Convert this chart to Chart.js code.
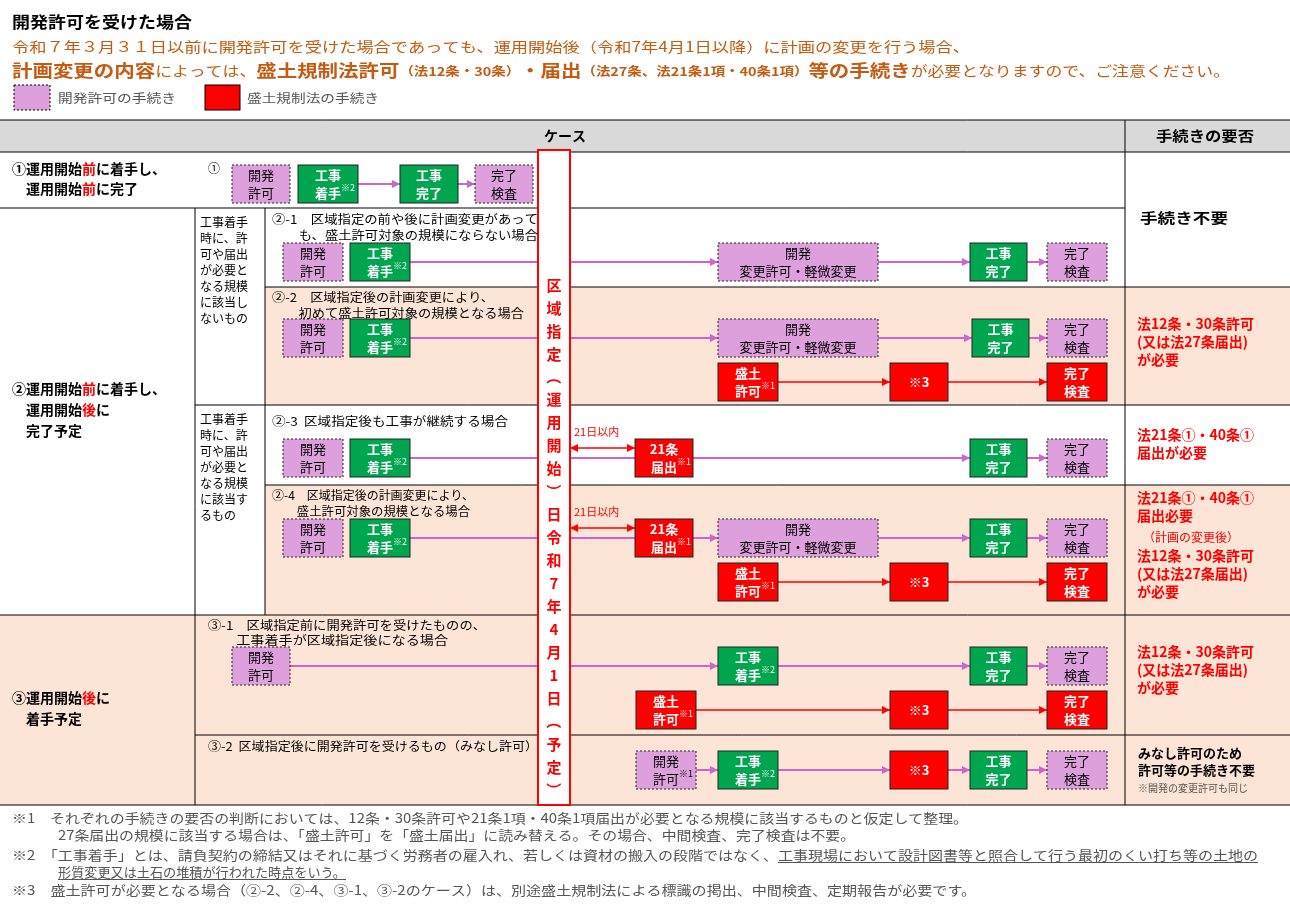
<!DOCTYPE html>
<html><head><meta charset="utf-8">
<script src="https://cdn.jsdelivr.net/npm/chart.js@4"></script>
<style>html,body{margin:0;padding:0;background:#fff}#c{display:block}</style>
</head><body>
<div style="width:1290px;height:911px"><canvas id="c"></canvas></div>
<script>
const F = '"Noto Sans CJK JP", "Noto Sans", sans-serif';
const ORANGE = '#c55a11', RED = '#ff0000', PINK = '#dda0dd', GREEN = '#00a550', PEACH = '#fce4d6';

// table bands [y1, y2, x1, x2, fill]
const bands = [
  [120, 152, 0, 1290, '#d9d9d9'],
  [287, 405, 265, 1125, PEACH], [485, 615, 265, 1125, PEACH],
  [287, 405, 1125, 1290, PEACH], [485, 615, 1125, 1290, PEACH],
  [615, 805, 0, 1290, PEACH]
];
// grid lines [x1, y1, x2, y2]
const gridLines = [
  [0, 120, 1290, 120], [0, 152, 1290, 152], [0, 208, 1125, 208], [265, 287, 1290, 287],
  [195, 405, 1290, 405], [265, 485, 1290, 485], [0, 615, 1290, 615], [195, 735, 1290, 735],
  [0, 805, 1290, 805], [195, 208, 195, 805], [265, 208, 265, 615], [1125, 120, 1125, 805]
];
// boxes [label, kind, x1, x2, yCenter, note]
const boxes = [
  ['開発\n許可', 'dev', 232, 290, 184, ''], ['工事\n着手', 'work', 298, 358, 184, '※2'],
  ['工事\n完了', 'work', 400, 458, 184, ''], ['完了\n検査', 'dev', 475, 533, 184, ''],
  ['開発\n許可', 'dev', 283, 343, 262, ''], ['工事\n着手', 'work', 350, 410, 262, '※2'],
  ['開発\n変更許可・軽微変更', 'dev', 718, 878, 262, ''], ['工事\n完了', 'work', 970, 1027, 262, ''], ['完了\n検査', 'dev', 1047, 1107, 262, ''],
  ['開発\n許可', 'dev', 283, 343, 338, ''], ['工事\n着手', 'work', 350, 410, 338, '※2'],
  ['開発\n変更許可・軽微変更', 'dev', 718, 878, 338, ''], ['工事\n完了', 'work', 972, 1029, 338, ''], ['完了\n検査', 'dev', 1047, 1107, 338, ''],
  ['盛土\n許可', 'reg', 718, 778, 382, '※1'], ['※3', 'reg', 890, 948, 382, ''], ['完了\n検査', 'reg', 1047, 1107, 382, ''],
  ['開発\n許可', 'dev', 283, 343, 458, ''], ['工事\n着手', 'work', 350, 410, 458, '※2'],
  ['21条\n届出', 'reg', 635, 693, 458, '※1'], ['工事\n完了', 'work', 970, 1027, 458, ''], ['完了\n検査', 'dev', 1047, 1107, 458, ''],
  ['開発\n許可', 'dev', 283, 343, 538, ''], ['工事\n着手', 'work', 350, 410, 538, '※2'],
  ['21条\n届出', 'reg', 635, 693, 538, '※1'], ['開発\n変更許可・軽微変更', 'dev', 718, 878, 538, ''],
  ['工事\n完了', 'work', 970, 1027, 538, ''], ['完了\n検査', 'dev', 1047, 1107, 538, ''],
  ['盛土\n許可', 'reg', 718, 778, 582, '※1'], ['※3', 'reg', 890, 948, 582, ''], ['完了\n検査', 'reg', 1047, 1107, 582, ''],
  ['開発\n許可', 'dev', 232, 290, 666, ''], ['工事\n着手', 'work', 718, 778, 666, '※2'],
  ['工事\n完了', 'work', 970, 1027, 666, ''], ['完了\n検査', 'dev', 1047, 1107, 666, ''],
  ['盛土\n許可', 'reg', 636, 696, 710, '※1'], ['※3', 'reg', 890, 948, 710, ''], ['完了\n検査', 'reg', 1047, 1107, 710, ''],
  ['開発\n許可', 'dev', 636, 696, 770, '※1'], ['工事\n着手', 'work', 718, 778, 770, '※2'],
  ['※3', 'reg', 890, 948, 770, ''], ['工事\n完了', 'work', 970, 1027, 770, ''], ['完了\n検査', 'dev', 1047, 1107, 770, '']
];
// arrows [x1, x2, y, color, double]
const arrows = [
  [358, 400, 184, '#cc66cc', 0], [458, 475, 184, '#cc66cc', 0],
  [410, 718, 262, '#cc66cc', 0], [878, 970, 262, '#cc66cc', 0], [1027, 1047, 262, '#cc66cc', 0],
  [410, 718, 338, '#cc66cc', 0], [878, 972, 338, '#cc66cc', 0], [1029, 1047, 338, '#cc66cc', 0],
  [778, 890, 382, RED, 0], [948, 1047, 382, RED, 0],
  [410, 970, 458, '#cc66cc', 0], [1027, 1047, 458, '#cc66cc', 0], [570, 635, 448, RED, 1],
  [410, 718, 538, '#cc66cc', 0], [878, 970, 538, '#cc66cc', 0], [1027, 1047, 538, '#cc66cc', 0], [570, 635, 528, RED, 1],
  [778, 890, 582, RED, 0], [948, 1047, 582, RED, 0],
  [290, 718, 666, '#cc66cc', 0], [778, 970, 666, '#cc66cc', 0], [1027, 1047, 666, '#cc66cc', 0],
  [696, 890, 710, RED, 0], [948, 1047, 710, RED, 0],
  [696, 718, 770, '#cc66cc', 0], [778, 890, 770, '#cc66cc', 0], [948, 970, 770, '#cc66cc', 0], [1027, 1047, 770, '#cc66cc', 0]
];
// texts [text, x, y, size, color, bold, align, fitWidth, underlineFrom]
const texts = [
  ['開発許可を受けた場合', 12, 22, 16, '#000', 1, 'left', 180],
  ['令和７年３月３１日以前に開発許可を受けた場合であっても、運用開始後（令和7年4月1日以降）に計画の変更を行う場合、', 12, 47, 14, ORANGE, 0, 'left', 958],
  ['開発許可の手続き', 58, 98, 12, '#555', 0, 'left', 118], ['盛土規制法の手続き', 247, 98, 12, '#555', 0, 'left', 132],
  ['ケース', 565, 136, 14, '#000', 1, 'center'], ['手続きの要否', 1205, 136, 14, '#000', 1, 'center', 98],
  ['①', 208, 168, 12, '#000', 0, 'left'],
  ['②-1　区域指定の前や後に計画変更があって', 272, 219, 12, '#000', 0, 'left', 266],
  ['　　も、盛土許可対象の規模にならない場合', 272, 235, 12, '#000', 0, 'left', 266],
  ['②-2　区域指定後の計画変更により、', 272, 297, 12, '#000', 0, 'left', 222],
  ['　　初めて盛土許可対象の規模となる場合', 272, 313, 12, '#000', 0, 'left', 252],
  ['②-3  区域指定後も工事が継続する場合', 272, 421, 12, '#000', 0, 'left', 236],
  ['②-4　区域指定後の計画変更により、', 272, 495, 12, '#000', 0, 'left', 202],
  ['　　盛土許可対象の規模となる場合', 272, 511, 12, '#000', 0, 'left', 198],
  ['③-1　区域指定前に開発許可を受けたものの、', 208, 625, 12, '#000', 0, 'left', 278],
  ['　　工事着手が区域指定後になる場合', 208, 640, 12, '#000', 0, 'left', 240],
  ['③-2  区域指定後に開発許可を受けるもの（みなし許可）', 208, 746, 12, '#000', 0, 'left', 330],
  ['工事着手\n時に、許\n可や届出\nが必要と\nなる規模\nに該当し\nないもの', 200, 222, 12, '#000', 0, 'left'],
  ['工事着手\n時に、許\n可や届出\nが必要と\nなる規模\nに該当す\nるもの', 200, 419, 12, '#000', 0, 'left'],
  ['21日以内', 574, 432, 11, RED, 0, 'left'], ['21日以内', 574, 512, 11, RED, 0, 'left'],
  ['手続き不要', 1140, 218, 14, '#000', 1, 'left', 88],
  ['法12条・30条許可\n(又は法27条届出)\nが必要', 1137, 324, 14, RED, 1, 'left'],
  ['法21条①・40条①\n届出が必要', 1137, 435, 14, RED, 1, 'left'],
  ['法21条①・40条①\n届出必要', 1137, 498, 14, RED, 1, 'left'],
  ['（計画の変更後）', 1143, 537, 12, RED, 0, 'left'],
  ['法12条・30条許可\n(又は法27条届出)\nが必要', 1137, 556, 14, RED, 1, 'left'],
  ['法12条・30条許可\n(又は法27条届出)\nが必要', 1137, 652, 14, RED, 1, 'left'],
  ['みなし許可のため\n許可等の手続き不要', 1138, 753, 13, '#000', 1, 'left'],
  ['※開発の変更許可も同じ', 1138, 788, 10, '#555', 0, 'left'],
  ['※1　それぞれの手続きの要否の判断においては、12条・30条許可や21条1項・40条1項届出が必要となる規模に該当するものと仮定して整理。', 12, 818, 13, '#555', 0, 'left', 956],
  ['27条届出の規模に該当する場合は、「盛土許可」を「盛土届出」に読み替える。その場合、中間検査、完了検査は不要。', 58, 835, 13, '#555', 0, 'left', 797],
  ['※2　「工事着手」とは、請負契約の締結又はそれに基づく労務者の雇入れ、若しくは資材の搬入の段階ではなく、工事現場において設計図書等と照合して行う最初のくい打ち等の土地の', 12, 855, 13, '#555', 0, 'left', 1246, '工事現場'],
  ['形質変更又は土石の堆積が行われた時点をいう。', 58, 872, 13, '#555', 0, 'left', 288, '形質'],
  ['※3　盛土許可が必要となる場合（②-2、②-4、③-1、③-2のケース）は、別途盛土規制法による標識の掲出、中間検査、定期報告が必要です。', 12, 890, 13, '#555', 0, 'left', 964]
];
// rich texts: [x, y, fitWidth, [text, color, size, bold]...]
const richTexts = [
  [12, 71, 1218, [['計画変更の内容', ORANGE, 17, 1], ['によっては、', ORANGE, 14, 0], ['盛土規制法許可', ORANGE, 17, 1], ['（法12条・30条）', ORANGE, 12, 1],
    ['・届出', ORANGE, 17, 1], ['（法27条、法21条1項・40条1項）', ORANGE, 12, 1], ['等の手続き', ORANGE, 17, 1], ['が必要となりますので、ご注意ください。', ORANGE, 14, 0]]],
  [12, 169, 0, [['①運用開始', '#000', 14, 1], ['前', RED, 14, 1], ['に着手し、', '#000', 14, 1]]],
  [26, 189, 0, [['運用開始', '#000', 14, 1], ['前', RED, 14, 1], ['に完了', '#000', 14, 1]]],
  [12, 389, 0, [['②運用開始', '#000', 14, 1], ['前', RED, 14, 1], ['に着手し、', '#000', 14, 1]]],
  [26, 410, 0, [['運用開始', '#000', 14, 1], ['後', RED, 14, 1], ['に', '#000', 14, 1]]],
  [26, 431, 0, [['完了予定', '#000', 14, 1]]],
  [12, 698, 0, [['③運用開始', '#000', 14, 1], ['後', RED, 14, 1], ['に', '#000', 14, 1]]],
  [26, 719, 0, [['着手予定', '#000', 14, 1]]]
];
const dateLabel = '区域指定（運用開始）日令和7年4月1日（予定）';

const diagram = {
  id: 'diagram',
  afterDraw(chart) {
    const c = chart.ctx, xs = chart.scales.x, ys = chart.scales.y;
    const X = v => xs.getPixelForValue(v), Y = v => ys.getPixelForValue(v);
    c.save();
    c.textBaseline = 'middle';
    bands.forEach(([y1, y2, x1, x2, f]) => { c.fillStyle = f; c.fillRect(X(x1), Y(y1), X(x2) - X(x1), Y(y2) - Y(y1)); });
    c.strokeStyle = '#000'; c.lineWidth = 1;
    gridLines.forEach(([x1, y1, x2, y2]) => { c.beginPath(); c.moveTo(X(x1), Y(y1)); c.lineTo(X(x2), Y(y2)); c.stroke(); });
    // legend swatches
    c.fillStyle = PINK; c.fillRect(X(14), Y(85), 36, 25); c.setLineDash([2, 2]); c.strokeRect(X(14), Y(85), 36, 25); c.setLineDash([]);
    c.fillStyle = RED; c.fillRect(X(205), Y(85), 35, 25); c.strokeRect(X(205), Y(85), 35, 25);
    // arrows
    arrows.forEach(([x1, x2, y, col, dbl]) => {
      const a = X(x1), b = X(x2), py = Y(y);
      c.strokeStyle = col; c.fillStyle = col; c.lineWidth = col === RED ? 1.5 : 2;
      c.beginPath(); c.moveTo(a, py); c.lineTo(b, py); c.stroke();
      const head = (tx, d) => { c.beginPath(); c.moveTo(tx, py); c.lineTo(tx - d * 8, py - 4); c.lineTo(tx - d * 8, py + 4); c.closePath(); c.fill(); };
      head(b, 1); if (dbl) head(a, -1);
    });
    // date column
    c.fillStyle = '#fff'; c.fillRect(X(538), Y(150), X(570) - X(538), Y(805) - Y(150));
    c.strokeStyle = RED; c.lineWidth = 2; c.strokeRect(X(538), Y(150), X(570) - X(538), Y(805) - Y(150));
    c.fillStyle = RED; c.font = `bold 15px ${F}`; c.textAlign = 'center';
    const chars = [...dateLabel], step = (Y(790) - Y(285)) / (chars.length - 1);
    chars.forEach((ch, i) => {
      const cy = Y(285) + i * step;
      if ('（）'.includes(ch)) { c.save(); c.translate(X(554), cy); c.rotate(Math.PI / 2); c.fillText(ch, 0, 0); c.restore(); }
      else c.fillText(ch, X(554), cy);
    });
    // boxes
    boxes.forEach(([lab, kind, x1, x2, yc, note]) => {
      const h = 38;
      const a = X(x1), w = X(x2) - a, t = Y(yc - h / 2);
      c.fillStyle = kind === 'dev' ? PINK : kind === 'work' ? GREEN : RED;
      c.fillRect(a, t, w, h);
      c.strokeStyle = '#222'; c.lineWidth = 1;
      if (kind === 'dev') c.setLineDash([2, 2]);
      c.strokeRect(a, t, w, h); c.setLineDash([]);
      c.fillStyle = kind === 'dev' ? '#000' : '#fff';
      c.font = `${kind === 'dev' ? '' : 'bold '}13px ${F}`; c.textAlign = 'center';
      const ls = lab.split('\n');
      if (ls.length === 1) c.fillText(ls[0], a + w / 2, Y(yc));
      else { c.fillText(ls[0], a + w / 2, Y(yc - 9)); c.fillText(ls[1], a + w / 2, Y(yc + 9)); }
      if (note) { c.font = `9px ${F}`; c.fillText(note, a + w / 2 + 20, Y(yc + 4)); }
    });
    // texts, optionally stretched to the width they take in the reference
    texts.forEach(([s, x, y, sz, col, b, al, fit, ul]) => {
      c.fillStyle = col; c.font = `${b ? 'bold ' : ''}${sz}px ${F}`; c.textAlign = al;
      s.split('\n').forEach((ln, i) => {
        const py = Y(y) + i * (sz + 4);
        if (fit) {
          const k = fit / c.measureText(ln).width;
          c.save(); c.translate(X(x), py); c.scale(k, 1); c.fillText(ln, 0, 0); c.restore();
          if (ul) {
            const x0 = X(x) + c.measureText(ln.slice(0, ln.indexOf(ul))).width * k;
            c.strokeStyle = col; c.lineWidth = 1;
            c.beginPath(); c.moveTo(x0, py + sz / 2 + 1); c.lineTo(X(x) + fit, py + sz / 2 + 1); c.stroke();
          }
        } else c.fillText(ln, X(x), py);
      });
    });
    richTexts.forEach(([x, y, fit, segs]) => {
      c.textAlign = 'left';
      let total = 0;
      segs.forEach(([s, , sz, b]) => { c.font = `${b ? 'bold ' : ''}${sz}px ${F}`; total += c.measureText(s).width; });
      const k = fit ? fit / total : 1;
      c.save(); c.translate(X(x), Y(y)); c.scale(k, 1);
      let px = 0;
      segs.forEach(([s, col, sz, b]) => {
        c.fillStyle = col; c.font = `${b ? 'bold ' : ''}${sz}px ${F}`;
        c.fillText(s, px, 0); px += c.measureText(s).width;
      });
      c.restore();
    });
    c.restore();
  }
};

new Chart(document.getElementById('c'), {
  type: 'scatter',
  data: { datasets: [{ data: [] }] },
  options: {
    responsive: true, maintainAspectRatio: false, animation: false,
    layout: { padding: 0 },
    scales: {
      x: { type: 'linear', min: 0, max: 1290, display: false },
      y: { type: 'linear', min: 0, max: 911, reverse: true, display: false }
    },
    plugins: { legend: { display: false }, tooltip: { enabled: false } }
  },
  plugins: [diagram]
});
</script>
</body></html>
